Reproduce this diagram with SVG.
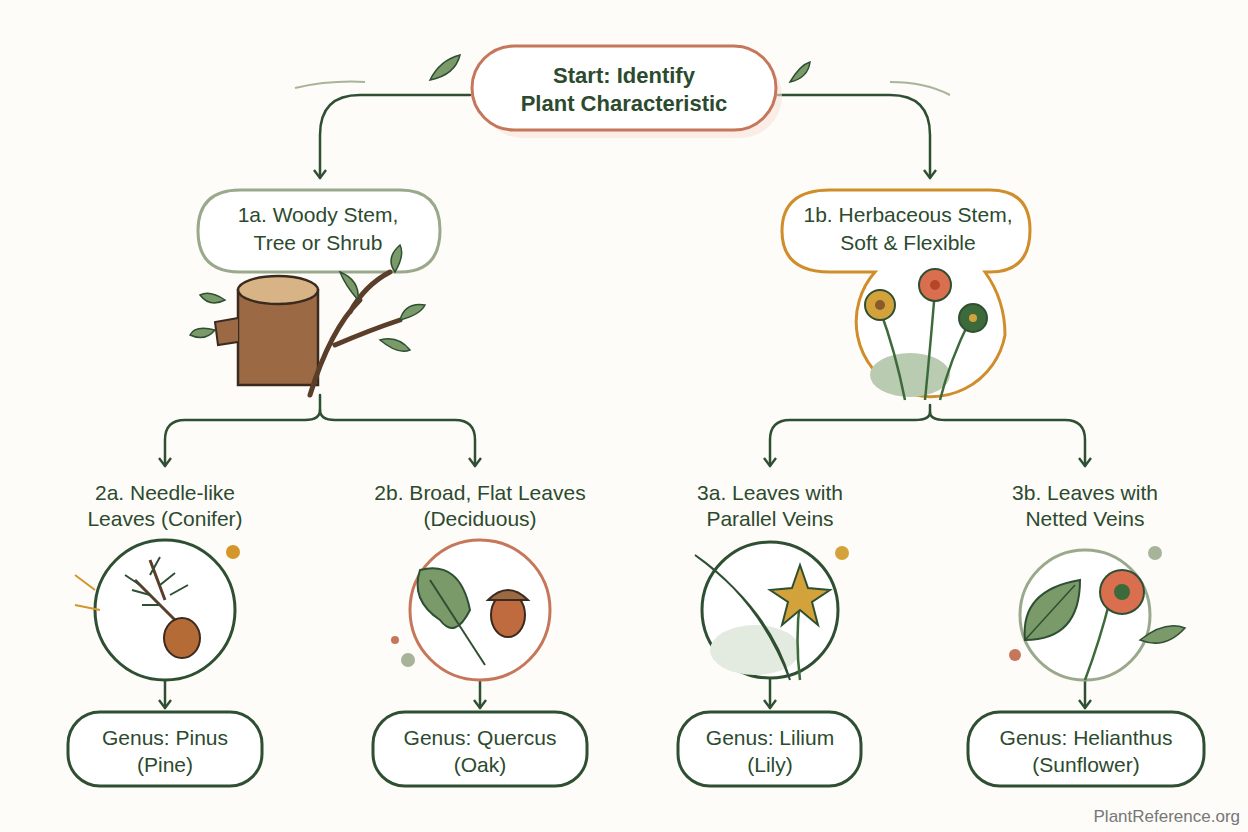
<svg xmlns="http://www.w3.org/2000/svg" width="1248" height="832" viewBox="0 0 1248 832">
<style>
.t{font-family:"Liberation Sans",Arial,sans-serif;font-size:21px;fill:#2c4a2e;text-anchor:middle}
.b{font-weight:bold;font-size:22px}
.c{fill:none;stroke:#2f4f33;stroke-width:2.5;stroke-linecap:round}
.leaf{fill:#7a9a6a;stroke:#2f4f33;stroke-width:1.5}
</style>
<defs>
<marker id="a" viewBox="0 0 14 14" refX="12" refY="7" markerWidth="14" markerHeight="14" markerUnits="userSpaceOnUse" orient="auto">
<path d="M4 1 L12 7 L4 13" fill="none" stroke="#2f4f33" stroke-width="2.4" stroke-linejoin="round"/>
</marker>
</defs>
<rect width="1248" height="832" fill="#fdfcf8"/>
<g id="connectors">
<path class="c" d="M470 95 H360 Q320 95 320 135 V178" marker-end="url(#a)"/>
<path class="c" d="M778 95 H890 Q930 95 930 135 V178" marker-end="url(#a)"/>
<path class="c" d="M320 395 V410 Q320 420 305 420 H185 Q165 420 165 440 V466" marker-end="url(#a)"/>
<path class="c" d="M320 410 Q320 420 335 420 H455 Q475 420 475 440 V466" marker-end="url(#a)"/>
<path class="c" d="M930 405 V412 Q930 420 915 420 H790 Q770 420 770 440 V466" marker-end="url(#a)"/>
<path class="c" d="M930 412 Q930 420 945 420 H1065 Q1085 420 1085 440 V466" marker-end="url(#a)"/>
<path class="c" d="M165 680 V708" marker-end="url(#a)"/>
<path class="c" d="M480 680 V708" marker-end="url(#a)"/>
<path class="c" d="M770 678 V708" marker-end="url(#a)"/>
<path class="c" d="M1085 680 V708" marker-end="url(#a)"/>
<path d="M295 88 Q330 80 365 82" fill="none" stroke="#a8b49a" stroke-width="2"/>
<path d="M890 82 Q925 82 950 95" fill="none" stroke="#a8b49a" stroke-width="2"/>
</g>
<g id="start">
<rect x="474" y="48" width="302" height="84" rx="42" fill="#f6e2d9" opacity="0.6" transform="translate(6,6)"/>
<rect x="472" y="46" width="304" height="84" rx="42" fill="#fff" stroke="#c6775b" stroke-width="3"/>
<text class="t b" x="624" y="83">Start: Identify</text>
<text class="t b" x="624" y="111">Plant Characteristic</text>
<path class="leaf" d="M430 80 Q440 60 460 55 Q455 75 430 80Z"/>
<path class="leaf" d="M790 82 Q800 65 810 62 Q808 78 790 82Z"/>
</g>
<g id="n1a">
<path d="M240 190 H400 Q440 190 440 230 Q440 272 400 272 H240 Q198 272 198 231 Q198 190 240 190" fill="#fff" stroke="#9aa98c" stroke-width="3"/>
<text class="t" x="318" y="222">1a. Woody Stem,</text>
<text class="t" x="318" y="250">Tree or Shrub</text>
<rect x="238" y="290" width="80" height="95" fill="#9b6a45" stroke="#3b2a1e" stroke-width="2.5"/>
<ellipse cx="278" cy="290" rx="40" ry="14" fill="#d8b386" stroke="#3b2a1e" stroke-width="2.5"/>
<path d="M238 318 L215 322 L218 345 L238 342" fill="#9b6a45" stroke="#3b2a1e" stroke-width="2"/>
<path d="M310 395 Q330 330 360 300 M335 345 Q370 330 400 320 M350 312 Q365 285 390 272" fill="none" stroke="#5a3e2a" stroke-width="5" stroke-linecap="round"/>
<path class="leaf" d="M395 272 Q405 255 400 245 Q385 258 395 272Z"/>
<path class="leaf" d="M400 320 Q420 315 425 305 Q405 302 400 320Z"/>
<path class="leaf" d="M358 300 Q345 285 340 272 Q360 280 358 300Z"/>
<path class="leaf" d="M380 340 Q398 355 410 350 Q398 335 380 340Z"/>
<path class="leaf" d="M215 330 Q195 325 190 335 Q205 342 215 330Z"/>
<path class="leaf" d="M225 300 Q210 290 200 295 Q210 308 225 300Z"/>
</g>
<g id="n1b">
<path d="M830 190 H990 Q1030 190 1030 230 Q1030 272 990 272 H985 Q1005 300 1005 335 A75 75 0 1 1 875 272 H830 Q782 272 782 231 Q782 190 830 190" fill="#fff" stroke="#cf8e2b" stroke-width="3"/>
<text class="t" x="908" y="222">1b. Herbaceous Stem,</text>
<text class="t" x="908" y="250">Soft &amp; Flexible</text>
<ellipse cx="910" cy="375" rx="40" ry="22" fill="#b9cbb0"/>
<path d="M880 310 Q895 350 905 400 M935 290 Q930 350 925 400 M970 320 Q950 360 940 400" fill="none" stroke="#3d6a3a" stroke-width="2.5"/>
<circle cx="880" cy="305" r="15" fill="#d4a23a" stroke="#2f4f33" stroke-width="2"/><circle cx="880" cy="305" r="5" fill="#8a5a2a"/>
<circle cx="935" cy="285" r="16" fill="#d96f4e" stroke="#2f4f33" stroke-width="2"/><circle cx="935" cy="285" r="5" fill="#b5462a"/>
<circle cx="973" cy="318" r="14" fill="#3d6a3a" stroke="#2f4f33" stroke-width="2"/><circle cx="973" cy="318" r="4" fill="#d4a23a"/>
</g>
<g id="n2a">
<text class="t" x="165" y="500">2a. Needle-like</text>
<text class="t" x="165" y="526">Leaves (Conifer)</text>
<circle cx="165" cy="610" r="70" fill="#fff" stroke="#2f4f33" stroke-width="3"/>
<path d="M135 580 L195 640 M150 560 L165 600" stroke="#5a3e2a" stroke-width="3" fill="none"/>
<path d="M140 585 l-15 -10 M150 595 l-18 -5 M160 605 l-18 0 M150 575 l10 -18 M160 585 l15 -12 M170 595 l18 -10" stroke="#2f4f33" stroke-width="2"/>
<ellipse cx="182" cy="638" rx="18" ry="20" fill="#b56b35" stroke="#3b2a1e" stroke-width="2"/>
<circle cx="233" cy="552" r="7" fill="#d4952a"/>
<path d="M95 590 l-20 -15 M100 610 l-25 -5" stroke="#d4952a" stroke-width="2"/>
</g>
<g id="n2b">
<text class="t" x="480" y="500">2b. Broad, Flat Leaves</text>
<text class="t" x="480" y="526">(Deciduous)</text>
<circle cx="480" cy="610" r="70" fill="#fff" stroke="#c6775b" stroke-width="3"/>
<path d="M420 570 Q460 560 470 610 Q455 640 440 620 Q410 600 420 570Z" fill="#7a9a6a" stroke="#2f4f33" stroke-width="2"/>
<path d="M430 580 L485 665" stroke="#2f4f33" stroke-width="2"/>
<ellipse cx="508" cy="615" rx="17" ry="22" fill="#c06a40" stroke="#3b2a1e" stroke-width="2"/>
<path d="M488 600 Q508 580 528 600Z" fill="#9b6a45" stroke="#3b2a1e" stroke-width="2"/>
<circle cx="408" cy="660" r="7" fill="#a8b49a"/><circle cx="395" cy="640" r="4" fill="#c6775b"/>
</g>
<g id="n3a">
<text class="t" x="770" y="500">3a. Leaves with</text>
<text class="t" x="770" y="526">Parallel Veins</text>
<circle cx="770" cy="610" r="68" fill="#fff" stroke="#2f4f33" stroke-width="3"/>
<ellipse cx="755" cy="650" rx="45" ry="25" fill="#e3ebe0"/>
<path d="M695 555 Q760 600 790 680 Q770 610 695 555Z" fill="#4a7a45" stroke="#2f4f33" stroke-width="2"/>
<path d="M800 600 Q795 640 800 680" stroke="#3d6a3a" stroke-width="2.5" fill="none"/>
<path d="M800 565 L808 588 L830 590 L812 602 L818 625 L800 610 L782 625 L788 602 L770 590 L792 588Z" fill="#d4a23a" stroke="#2f4f33" stroke-width="2"/>
<circle cx="842" cy="553" r="7" fill="#d4a23a"/>
</g>
<g id="n3b">
<text class="t" x="1085" y="500">3b. Leaves with</text>
<text class="t" x="1085" y="526">Netted Veins</text>
<circle cx="1085" cy="615" r="65" fill="#fff" stroke="#9aa98c" stroke-width="3"/>
<path d="M1025 640 Q1020 590 1080 580 Q1080 640 1025 640Z" fill="#7a9a6a" stroke="#2f4f33" stroke-width="2"/>
<path d="M1025 640 L1075 585" stroke="#2f4f33" stroke-width="1.5"/>
<path d="M1110 600 Q1100 640 1085 680" stroke="#3d6a3a" stroke-width="2.5" fill="none"/>
<circle cx="1122" cy="592" r="22" fill="#d96f4e" stroke="#2f4f33" stroke-width="2"/>
<circle cx="1122" cy="592" r="8" fill="#3d6a3a"/>
<path class="leaf" d="M1140 640 Q1165 620 1185 628 Q1165 650 1140 640Z"/>
<circle cx="1155" cy="553" r="7" fill="#a8b49a"/><circle cx="1015" cy="655" r="6" fill="#c6775b"/>
</g>
<g id="g1"><rect x="68" y="712" width="194" height="74" rx="32" fill="#fff" stroke="#2f4f33" stroke-width="3"/>
<text class="t" x="165" y="745">Genus: Pinus</text><text class="t" x="165" y="772">(Pine)</text></g>
<g id="g2"><rect x="373" y="712" width="214" height="74" rx="32" fill="#fff" stroke="#2f4f33" stroke-width="3"/>
<text class="t" x="480" y="745">Genus: Quercus</text><text class="t" x="480" y="772">(Oak)</text></g>
<g id="g3"><rect x="678" y="712" width="183" height="74" rx="32" fill="#fff" stroke="#2f4f33" stroke-width="3"/>
<text class="t" x="770" y="745">Genus: Lilium</text><text class="t" x="770" y="772">(Lily)</text></g>
<g id="g4"><rect x="968" y="712" width="236" height="74" rx="32" fill="#fff" stroke="#2f4f33" stroke-width="3"/>
<text class="t" x="1086" y="745">Genus: Helianthus</text><text class="t" x="1086" y="772">(Sunflower)</text></g>
<text x="1240" y="822" style="font-family:'Liberation Sans',Arial,sans-serif;font-size:17px;fill:#777;text-anchor:end">PlantReference.org</text>
</svg>
